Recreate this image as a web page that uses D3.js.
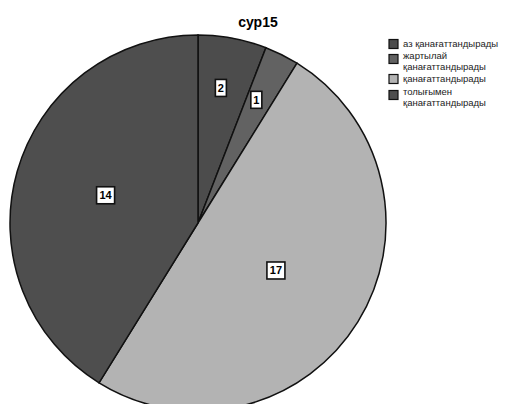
<!DOCTYPE html>
<html>
<head>
<meta charset="utf-8">
<script src="https://cdn.jsdelivr.net/npm/d3@7"></script>
<style>
  body { margin: 0; background: #fff; }
  svg { display: block; }
</style>
</head>
<body>
<svg id="chart" width="513" height="404"></svg>
<script>
// chart data
const title = 'сур15'
const categories = ['аз қанағаттандырады', 'жартылай қанағаттандырады', 'қанағаттандырады', 'толығымен қанағаттандырады']
const legendLines = [['аз қанағаттандырады'], ['жартылай', 'қанағаттандырады'], ['қанағаттандырады'], ['толығымен', 'қанағаттандырады']]
const values = [2, 1, 17, 14]
const colors = ['#4c4c4c', '#626262', '#b3b3b3', '#4e4e4e']

const svg = d3.select('#chart')
const cx = 198, cy = 223, r = 188
const font = 'Liberation Sans, Arial, sans-serif'

svg.append('text')
    .attr('x', 258).attr('y', 27)
    .attr('text-anchor', 'middle')
    .style('font-family', font)
    .style('font-weight', 'bold')
    .style('font-size', '14px')
    .text(title)

const pie = d3.pie().sort(null).value(d => d)
const arcs = pie(values)
const arc = d3.arc().innerRadius(0).outerRadius(r)

const g = svg.append('g').attr('transform', `translate(${cx},${cy})`)

g.selectAll('path.slice')
    .data(arcs)
    .enter().append('path')
    .attr('class', 'slice')
    .attr('d', arc)
    .attr('fill', (d, i) => colors[i])
    .attr('stroke', '#111')
    .attr('stroke-width', 1.5)

// labels: small slices get pushed further out, like the original
const total = d3.sum(values)
const labels = g.selectAll('g.lbl')
    .data(arcs)
    .enter().append('g')
    .attr('class', 'lbl')
    .attr('transform', d => {
        const frac = d.value / total < 0.1 ? 0.72 : 0.5
        const c = d3.arc().innerRadius(r * frac).outerRadius(r * frac).centroid(d)
        return `translate(${c[0] - 2},${c[1] - 2})`
    })

labels.append('rect')
    .attr('x', d => d.value >= 10 ? -9 : -5.5)
    .attr('y', -8.5)
    .attr('width', d => d.value >= 10 ? 18 : 11)
    .attr('height', 17)
    .attr('fill', '#fff')
    .attr('stroke', '#111')
    .attr('stroke-width', 1.6)

labels.append('text')
    .attr('text-anchor', 'middle')
    .attr('dy', '0.36em')
    .style('font-family', font)
    .style('font-weight', 'bold')
    .style('font-size', '11px')
    .text(d => d.value)

// legend
const legendY = [44, 56, 79, 92]
const legend = svg.append('g')
categories.forEach((c, i) => {
    const lines = legendLines[i]
    const row = legend.append('g').attr('transform', `translate(389,${legendY[i]})`)
    row.append('rect')
        .attr('x', 0).attr('y', lines.length > 1 ? -1.5 : -4.5)
        .attr('width', 9).attr('height', 9)
        .attr('fill', colors[i])
        .attr('stroke', '#111')
        .attr('stroke-width', 1.2)
    lines.forEach((t, j) => {
        row.append('text')
            .attr('x', 14)
            .attr('y', j * 10.5)
            .attr('dy', '0.35em')
            .style('font-family', font)
            .style('font-size', '9.5px')
            .attr('fill', '#222')
            .text(t)
    })
})
</script>
</body>
</html>
